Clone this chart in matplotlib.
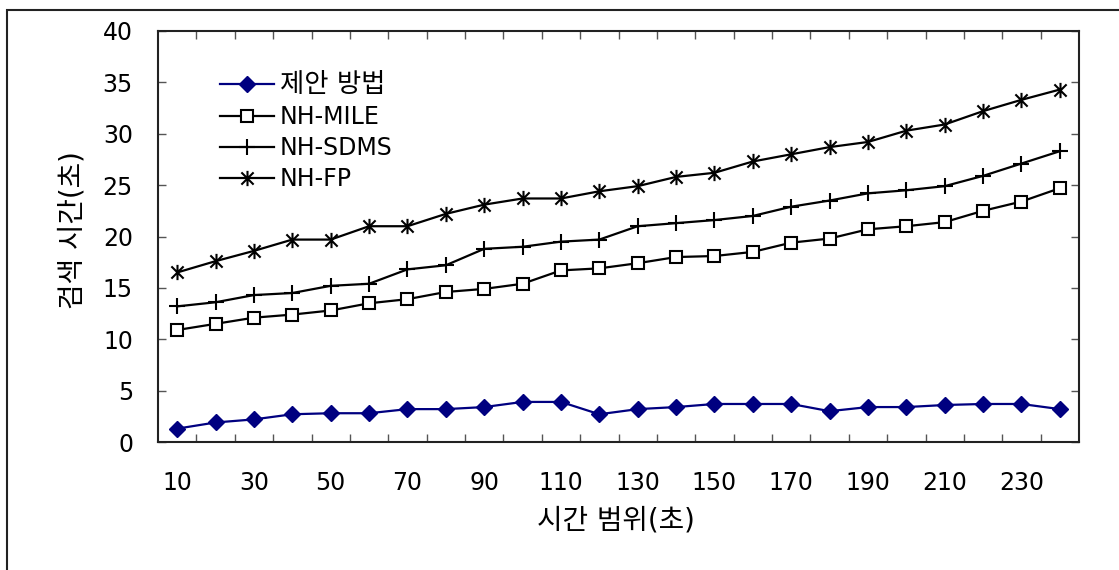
"""Search time vs. time range: proposed method against NH-based baselines."""

import matplotlib as mpl
import matplotlib.pyplot as plt
import numpy as np
from matplotlib.patches import Rectangle
from matplotlib.path import Path

mpl.rcParams.update(
    {
        "font.family": ["DejaVu Sans", "Noto Sans CJK KR"],
        "font.size": 17,
        "axes.unicode_minus": False,
    }
)

time_range = [10, 20, 30, 40, 50, 60, 70, 80, 90, 100, 110, 120,
              130, 140, 150, 160, 170, 180, 190, 200, 210, 220, 230, 240]
proposed = [1.3, 1.9, 2.2, 2.7, 2.8, 2.8, 3.2, 3.2, 3.4, 3.9, 3.9, 2.7,
            3.2, 3.4, 3.7, 3.7, 3.7, 3.0, 3.4, 3.4, 3.6, 3.7, 3.7, 3.2]
nh_mile = [10.9, 11.5, 12.1, 12.4, 12.8, 13.5, 13.9, 14.6, 14.9, 15.4, 16.7, 16.9,
           17.4, 18.0, 18.1, 18.5, 19.4, 19.8, 20.7, 21.0, 21.4, 22.5, 23.4, 24.7]
nh_sdms = [13.2, 13.6, 14.3, 14.5, 15.2, 15.4, 16.8, 17.2, 18.8, 19.0, 19.5, 19.7,
           21.0, 21.3, 21.6, 22.0, 22.9, 23.5, 24.2, 24.5, 24.9, 25.9, 27.1, 28.3]
nh_fp = [16.5, 17.6, 18.6, 19.7, 19.7, 21.0, 21.0, 22.2, 23.1, 23.7, 23.7, 24.4,
         24.9, 25.8, 26.2, 27.3, 28.0, 28.7, 29.2, 30.3, 30.9, 32.2, 33.3, 34.3]

series_labels = ["제안 방법", "NH-MILE", "NH-SDMS", "NH-FP"]
y_ticks = [0, 5, 10, 15, 20, 25, 30, 35, 40]

# Excel-style star: an X crossed by a vertical bar
STAR = Path(
    [(-1, -1), (1, 1), (-1, 1), (1, -1), (0, -1.25), (0, 1.25)],
    [Path.MOVETO, Path.LINETO, Path.MOVETO, Path.LINETO, Path.MOVETO, Path.LINETO],
)

W, H = 1119, 570
fig = plt.figure(figsize=(W / 100, H / 100), dpi=100)
ax = fig.add_axes([158 / W, 1 - 442 / H, (1079 - 158) / W, (442 - 31) / H])

# outer chart frame (runs off the right and bottom of the image)
fig.patches.append(
    Rectangle((7 / W, -0.05), 1.1, 1 - 10 / H + 0.05, transform=fig.transFigure,
              fill=False, edgecolor="#222222", linewidth=1.5)
)

pos = np.arange(len(time_range))
ax.plot(pos, proposed, color="#000080", lw=1.6, marker="D", ms=8.5,
        mfc="#000080", mec="#000080", label=series_labels[0])
ax.plot(pos, nh_mile, color="black", lw=1.6, marker="s", ms=8.5,
        mfc="white", mec="black", mew=1.5, label=series_labels[1])
ax.plot(pos, nh_sdms, color="black", lw=1.6, marker="+", ms=12,
        mew=1.5, label=series_labels[2])
ax.plot(pos, nh_fp, color="black", lw=1.6, marker=STAR, ms=11,
        mew=1.5, label=series_labels[3])

ax.set_xlim(-0.5, len(time_range) - 0.5)
ax.set_ylim(0, 40)
ax.set_yticks(y_ticks)
ax.set_xticks(pos[::2])
ax.set_xticklabels([str(v) for v in time_range[::2]])
# tick marks sit on category boundaries
ax.set_xticks(np.arange(0.5, len(time_range) - 1, 1.0), minor=True)
ax.tick_params(axis="x", which="major", length=0, pad=21)
ax.tick_params(axis="x", which="minor", direction="in", length=6, width=1,
               color="#555555", top=True, bottom=True)
ax.tick_params(axis="y", direction="in", length=6, width=1, color="#555555",
               left=True, right=True, pad=18)
for spine in ax.spines.values():
    spine.set_color("#222222")
    spine.set_linewidth(1.5)

fig.text(616 / W, 1 - 520 / H, "시간 범위(초)", ha="center", va="center", fontsize=20)
fig.text(72 / W, 1 - 230 / H, "검색 시간(초)", ha="center", va="center",
         rotation=90, fontsize=20)

legend = ax.legend(loc="upper left", bbox_to_anchor=(208 / W, 1 - 60 / H),
                   bbox_transform=fig.transFigure, frameon=False, handlelength=2.3,
                   handletextpad=0.25, labelspacing=0.3, borderpad=0, fontsize=17)
legend.get_texts()[0].set_fontsize(19)

fig.savefig("out.png", dpi=100)
